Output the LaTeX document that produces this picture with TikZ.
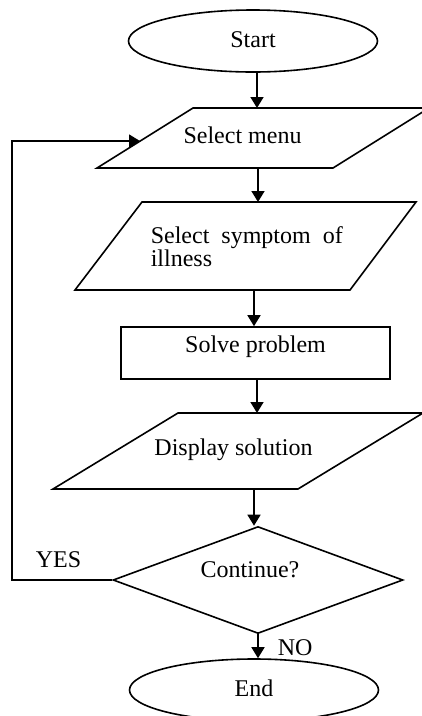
\documentclass[tikz,border=0pt]{standalone}
\usepackage{fontspec}
\setmainfont{Liberation Serif}
\usetikzlibrary{shapes.geometric,arrows.meta}
\begin{document}
\begin{tikzpicture}[x=1pt,y=-1pt,
  line width=1.6pt,
  txt/.style={font=\fontsize{24}{28}\selectfont, inner sep=0pt},
  arr/.style={-{Triangle[width=13pt,length=11pt]}},
  term/.style={ellipse, draw, minimum width=249pt, minimum height=62pt, inner sep=0pt, txt, text height=16pt, text depth=3pt},
]
\useasboundingbox (0,0) rectangle (422,716);
% Start
\node[term] (start) at (253,41) {Start};
% Select menu
\coordinate (m1) at (97,168); \coordinate (m2) at (333,168);
\coordinate (m3) at (429,108); \coordinate (m4) at (193,108);
\draw (m1) -- (m2) -- (m3) -- (m4) -- cycle;
\coordinate (menuT) at (257,108); \coordinate (menuB) at (258,168);
\coordinate (menuL) at (140,141);
\node[txt, anchor=base] (menu) at (242.5,143) {Select menu};
% Select symptom
\coordinate (s1) at (75,290); \coordinate (s2) at (350,290);
\coordinate (s3) at (416,202); \coordinate (s4) at (142,202);
\draw (s1) -- (s2) -- (s3) -- (s4) -- cycle;
\coordinate (symT) at (258,202); \coordinate (symB) at (254,290);
\node[inner sep=0pt, anchor=north west, align=left, font=\fontsize{24}{21.5}\selectfont] (sym) at (150,225.7) {\makebox[192pt][s]{Select symptom of}\\illness};
% Solve problem
\node[draw, minimum width=269pt, minimum height=52pt, txt, text height=16pt, text depth=18pt] (solve) at (255.5,353) {Solve problem};
% Display solution
\coordinate (d1) at (53,489); \coordinate (d2) at (298,489);
\coordinate (d3) at (423,413); \coordinate (d4) at (178,413);
\draw (d1) -- (d2) -- (d3) -- (d4) -- cycle;
\coordinate (dispT) at (257,413); \coordinate (dispB) at (254,489);
\node[txt, anchor=base] (disp) at (233.5,455) {Display solution};
% Decision
\node[diamond, draw, aspect=2.7, minimum width=290pt, minimum height=107pt, inner sep=0pt, txt, text height=16pt, text depth=22pt] (dec) at (258,580) {\hspace*{-16pt}Continue?};
% End
\node[term] (end) at (254,690) {End};
% connectors
\draw[arr] (start.south -| menuT) -- (menuT);
\draw[arr] (menuB) -- (symT);
\draw[arr] (symB) -- (symB |- solve.north);
\draw[arr] (solve.south -| dispT) -- (dispT);
\draw[arr] (dispB) -- (dispB |- dec.north);
\draw[arr] (dec.south) -- (dec.south |- end.north);
\coordinate (loopC) at (12,580);
\draw[arr] (dec.west) -- (loopC) |- (menuL);
\node[txt, anchor=base west] (yes) at (35,567) {YES};
\node[txt, anchor=base west] (no) at (277,655) {NO};
\end{tikzpicture}
\end{document}
